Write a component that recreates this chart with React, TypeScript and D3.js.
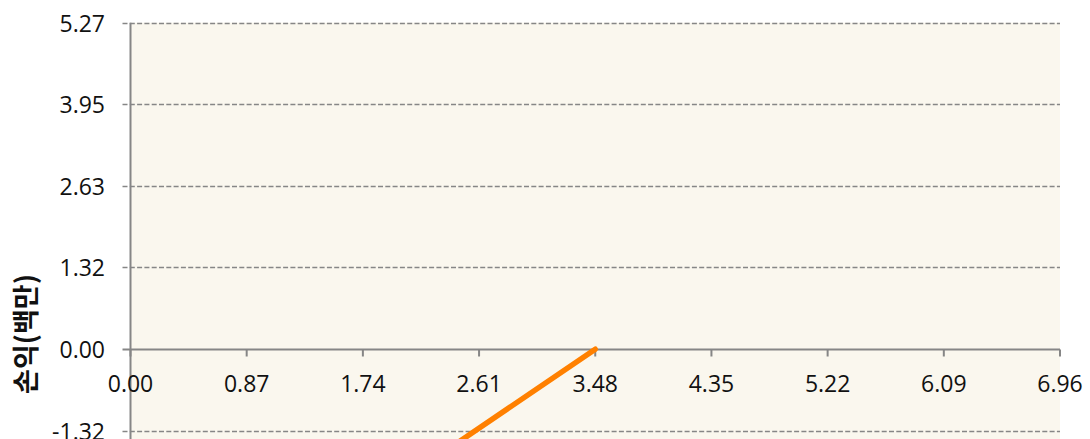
import { useEffect, useRef } from "react";
import * as d3 from "d3";

// axis ticks as shown on the chart
const xTicks = [0, 0.87, 1.74, 2.61, 3.48, 4.35, 5.22, 6.09, 6.96];
const yTicks = [5.27, 3.95, 2.63, 1.32, 0, -1.32, -2.63];

// payoff line (profit in millions)
const lineX = [0, 3.48];
const lineY = [-5.1, 0];

const W = 1090;
const H = 439;
const margin = { left: 130.5, right: 30, top: 22.7 };
const step = 81.65; // px per y tick

export default function App() {
  const svgRef = useRef<SVGSVGElement>(null);

  useEffect(() => {
    if (!svgRef.current) return;
    const svg = d3.select(svgRef.current);
    svg.selectAll("*").remove();

    const x = d3
      .scaleLinear()
      .domain([0, 6.96])
      .range([margin.left, W - margin.right]);
    const y = d3
      .scaleLinear()
      .domain([-1.32, 5.27])
      .range([margin.top + step * 5, margin.top]);

    const bottom = y(-2.63);

    svg
      .append("defs")
      .append("clipPath")
      .attr("id", "plot")
      .append("rect")
      .attr("x", margin.left)
      .attr("y", margin.top)
      .attr("width", x(6.96) - margin.left)
      .attr("height", bottom - margin.top);

    // plot background
    svg
      .append("rect")
      .attr("x", margin.left)
      .attr("y", margin.top)
      .attr("width", x(6.96) - margin.left)
      .attr("height", bottom - margin.top)
      .attr("fill", "#faf7ee");

    // gridlines
    svg
      .append("g")
      .selectAll("line")
      .data(yTicks.filter((d) => d !== 0))
      .join("line")
      .attr("x1", margin.left - 8)
      .attr("x2", x(6.96))
      .attr("y1", (d) => Math.round(y(d)) + 0.5)
      .attr("y2", (d) => Math.round(y(d)) + 0.5)
      .attr("stroke", "#868686")
      .attr("stroke-width", 1.6)
      .attr("stroke-dasharray", "5,2.3");

    // y axis line
    svg
      .append("line")
      .attr("x1", margin.left)
      .attr("x2", margin.left)
      .attr("y1", margin.top)
      .attr("y2", bottom)
      .attr("stroke", "#868686")
      .attr("stroke-width", 2);

    // x axis at zero
    const y0 = Math.round(y(0)) + 0.5;
    svg
      .append("line")
      .attr("x1", margin.left - 8)
      .attr("x2", x(6.96))
      .attr("y1", y0)
      .attr("y2", y0)
      .attr("stroke", "#868686")
      .attr("stroke-width", 2);

    svg
      .append("g")
      .selectAll("line")
      .data(xTicks)
      .join("line")
      .attr("x1", (d) => x(d))
      .attr("x2", (d) => x(d))
      .attr("y1", y0)
      .attr("y2", y0 + 7)
      .attr("stroke", "#868686")
      .attr("stroke-width", 2);

    // y tick labels
    svg
      .append("g")
      .selectAll("text")
      .data(yTicks)
      .join("text")
      .attr("x", 105)
      .attr("y", (d) => y(d))
      .attr("text-anchor", "end")
      .attr("dominant-baseline", "central")
      .attr("font-family", "'Open Sans', sans-serif")
      .attr("font-size", 23)
      .attr("fill", "#111")
      .text((d) => d.toFixed(2));

    // x tick labels
    svg
      .append("g")
      .selectAll("text")
      .data(xTicks)
      .join("text")
      .attr("x", (d) => x(d))
      .attr("y", y0 + 33)
      .attr("text-anchor", "middle")
      .attr("dominant-baseline", "central")
      .attr("font-family", "'Open Sans', sans-serif")
      .attr("font-size", 23)
      .attr("fill", "#111")
      .text((d) => d.toFixed(2));

    // payoff line
    const pts = lineX.map((v, i) => [v, lineY[i]] as [number, number]);
    svg
      .append("path")
      .datum(pts)
      .attr("clip-path", "url(#plot)")
      .attr("fill", "none")
      .attr("stroke", "#ff8000")
      .attr("stroke-width", 5.5)
      .attr("stroke-linecap", "round")
      .attr(
        "d",
        d3
          .line<[number, number]>()
          .x((d) => x(d[0]))
          .y((d) => y(d[1]))
      );

    // y axis title
    svg
      .append("text")
      .attr("transform", `translate(24, 334) rotate(-90)`)
      .attr("text-anchor", "middle")
      .attr("dominant-baseline", "central")
      .attr("font-family", "'Noto Sans CJK KR', sans-serif")
      .attr("font-weight", "bold")
      .attr("font-size", 27)
      .attr("fill", "#111")
      .text("손익(백만)");
  }, []);

  return (
    <svg
      ref={svgRef}
      width={W}
      height={H}
      style={{ position: "absolute", left: 0, top: 0, background: "#fff" }}
    />
  );
}
